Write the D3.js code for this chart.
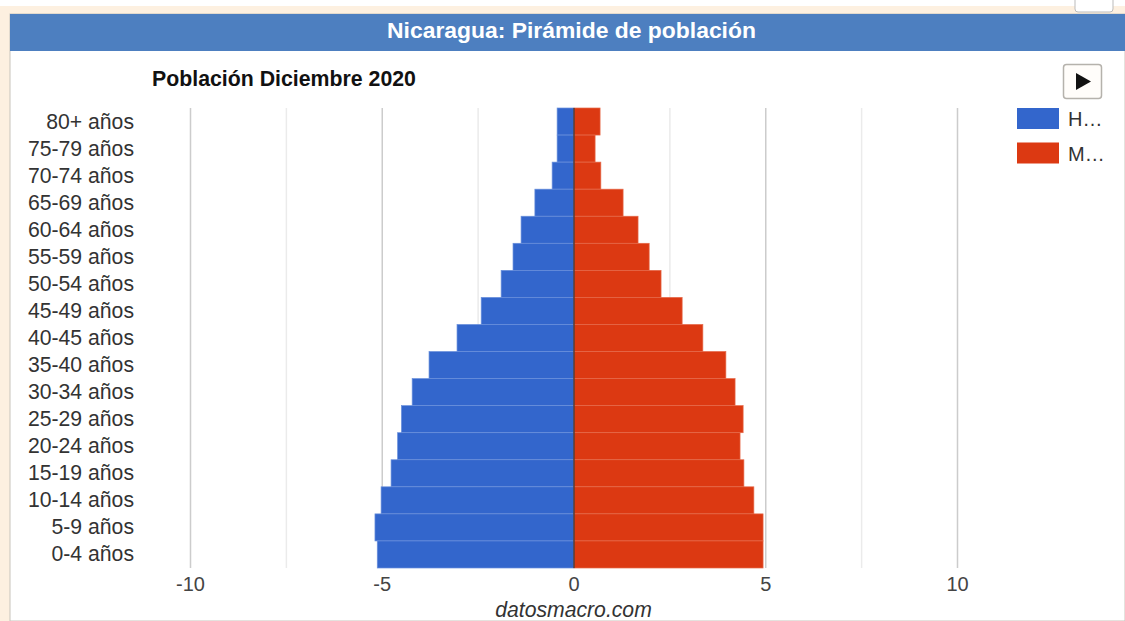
<!DOCTYPE html>
<html><head><meta charset="utf-8">
<script src="https://cdn.jsdelivr.net/npm/d3@7"></script>
<style>html,body{margin:0;padding:0;background:#fff;overflow:hidden}svg{display:block;font-family:"Liberation Sans",Arial,sans-serif}</style>
</head><body><div id="c"></div>
<script>
const categories=["80+ años","75-79 años","70-74 años","65-69 años","60-64 años","55-59 años","50-54 años","45-49 años","40-45 años","35-40 años","30-34 años","25-29 años","20-24 años","15-19 años","10-14 años","5-9 años","0-4 años"];
const hombres=[0.44,0.44,0.57,1.02,1.38,1.59,1.9,2.42,3.05,3.78,4.22,4.5,4.6,4.77,5.03,5.19,5.13];
const mujeres=[0.68,0.55,0.7,1.28,1.67,1.96,2.27,2.82,3.36,3.96,4.2,4.41,4.33,4.43,4.69,4.93,4.93];
const majorTicks=[-10,-5,0,5,10];
const minorTicks=[-7.5,-2.5,2.5,7.5];
const legendNames=["H…","M…"];
const colors=["#3366cc","#dc3912"];

const W=1125,H=621;
const svg=d3.select("#c").append("svg").attr("width",W).attr("height",H);
svg.append("rect").attr("x",0).attr("y",6).attr("width",W).attr("height",H-6).attr("fill","#fdf0e0");
svg.append("rect").attr("x",10).attr("y",14).attr("width",W-10).attr("height",H-14).attr("fill","#fff").attr("stroke","#c8c4bc");
svg.append("rect").attr("x",10).attr("y",14).attr("width",W-10).attr("height",37).attr("fill","#4d7fc0");
svg.append("rect").attr("x",1075).attr("y",-8).attr("width",38).attr("height",20).attr("rx",3).attr("fill","#fff").attr("stroke","#bbb");
svg.append("text").attr("x",571.5).attr("y",38).attr("text-anchor","middle").attr("fill","#fff").attr("font-weight","bold").attr("font-size",22.9).text("Nicaragua: Pirámide de población");
svg.append("text").attr("x",152).attr("y",86).attr("fill","#111").attr("font-weight","bold").attr("font-size",21.3).text("Población Diciembre 2020");

const x=d3.scaleLinear().domain([-10,10]).range([190.5,957.5]);
const y=d3.scaleBand().domain(categories).range([108,568]);
const grid=svg.append("g");
grid.selectAll("line.maj").data(majorTicks.filter(d=>d!==0)).join("line").attr("class","maj")
 .attr("x1",x).attr("x2",x).attr("y1",108).attr("y2",568).attr("stroke","#cccccc").attr("stroke-width",1.5);
grid.selectAll("line.min").data(minorTicks).join("line").attr("class","min")
 .attr("x1",x).attr("x2",x).attr("y1",108).attr("y2",568).attr("stroke","#ebebeb").attr("stroke-width",1.5);

const bars=svg.append("g");
bars.selectAll("rect.h").data(hombres).join("rect").attr("class","h")
 .attr("x",d=>x(-d)).attr("width",d=>x(0)-x(-d)).attr("y",(d,i)=>y(categories[i])).attr("height",y.bandwidth())
 .attr("fill",colors[0]).attr("stroke","#6a90dc").attr("stroke-width",.7);
bars.selectAll("rect.m").data(mujeres).join("rect").attr("class","m")
 .attr("x",x(0)).attr("width",d=>x(d)-x(0)).attr("y",(d,i)=>y(categories[i])).attr("height",y.bandwidth())
 .attr("fill",colors[1]).attr("stroke","#e66a4a").attr("stroke-width",.7);
svg.append("line").attr("x1",x(0)).attr("x2",x(0)).attr("y1",108).attr("y2",568).attr("stroke","#333").attr("stroke-width",1.2);

const cats=svg.append("g").attr("font-size",21.2).attr("fill","#333").attr("text-anchor","end");
cats.selectAll("text").data(categories).join("text").attr("x",134).attr("y",d=>y(d)+y.bandwidth()/2+7).text(d=>d);
const xl=svg.append("g").attr("font-size",20).attr("fill","#444").attr("text-anchor","middle");
xl.selectAll("text").data(majorTicks).join("text").attr("x",x).attr("y",591).text(d=>d);
svg.append("text").attr("x",573.5).attr("y",617).attr("text-anchor","middle").attr("font-style","italic").attr("font-size",21.2).attr("fill","#333").text("datosmacro.com");

svg.append("rect").attr("x",1063.5).attr("y",64.5).attr("width",38).attr("height",34).attr("rx",3).attr("fill","#fffdfa").attr("stroke","#b5b2ac").attr("stroke-width",1.5);
svg.append("path").attr("d","M1076 73L1091 81.5L1076 90Z").attr("fill","#111");
const lg=svg.append("g");
legendNames.forEach((n,i)=>{
 const yy=108+i*34.5;
 lg.append("rect").attr("x",1017).attr("y",yy).attr("width",42).attr("height",21).attr("fill",colors[i]);
 lg.append("text").attr("x",1068).attr("y",yy+18).attr("font-size",20).attr("fill","#333").text(n);
});
</script></body></html>
